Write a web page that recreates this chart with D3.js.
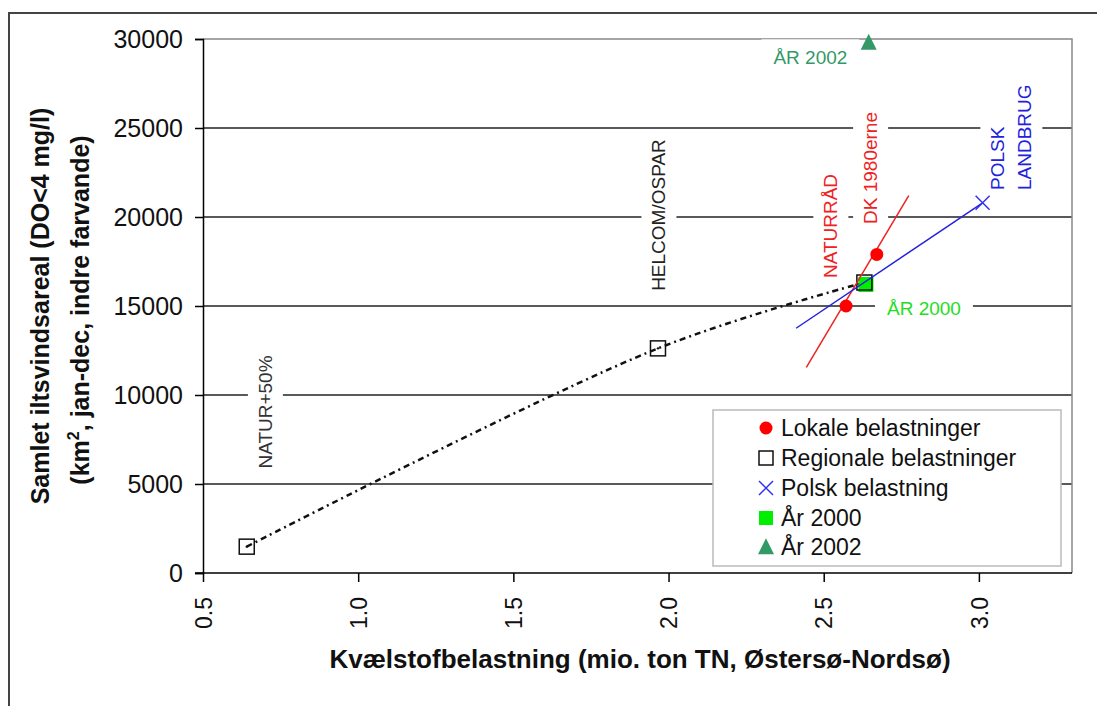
<!DOCTYPE html>
<html>
<head>
<meta charset="utf-8">
<script src="https://cdn.jsdelivr.net/npm/d3@7/dist/d3.min.js"></script>
<style>
  html, body { margin: 0; padding: 0; background: #fff; }
  text { font-family: "Liberation Sans", Arial, sans-serif; }
</style>
</head>
<body>
<svg id="chart" width="1097" height="706"></svg>
<script>
// ---- data ----
const xTicks = [0.5, 1.0, 1.5, 2.0, 2.5, 3.0];
const yTicks = [0, 5000, 10000, 15000, 20000, 25000, 30000];

const regionalX = [0.641, 1.966, 2.631];
const regionalY = [1480, 12620, 16320];

const lokaleX = [2.572, 2.671];
const lokaleY = [15000, 17900];

const polskX = [3.012];
const polskY = [20800];

const year2000X = [2.636];
const year2000Y = [16210];

const year2002X = [2.645];
const year2002Y = [29800];

const redTrendX = [2.444, 2.774];
const redTrendY = [11550, 21200];

const blueTrendX = [2.411, 3.012];
const blueTrendY = [13750, 20800];

const legendLabels = ["Lokale belastninger", "Regionale belastninger", "Polsk belastning", "År 2000", "År 2002"];

// annotation labels: text, x, y, rotated?, colour, anchor
const annotations = [
  {t: "NATUR+50%",    x: 0.700, y: 9045,  rot: true,  c: "#333333", a: "middle"},
  {t: "HELCOM/OSPAR", x: 1.968, y: 20112, rot: true,  c: "#222222", a: "middle"},
  {t: "NATURRÅD",     x: 2.522, y: 19494, rot: true,  c: "#ee2222", a: "middle"},
  {t: "DK 1980erne",  x: 2.650, y: 22753, rot: true,  c: "#ee2222", a: "middle"},
  {t: "POLSK",        x: 3.060, y: 21517, rot: true,  c: "#2222dd", a: "start"},
  {t: "LANDBRUG",     x: 3.147, y: 21517, rot: true,  c: "#2222dd", a: "start"},
  {t: "ÅR 2000",      x: 2.823, y: 14888, rot: false, c: "#22dd22", a: "middle"},
  {t: "ÅR 2002",      x: 2.457, y: 28961, rot: false, c: "#339966", a: "middle"}
];

// ---- layout ----
const svg = d3.select("#chart");
const L = 203, R = 1072, T = 39, B = 573;
const x = d3.scaleLinear().domain([0.5, 3.3]).range([L, R]);
const y = d3.scaleLinear().domain([0, 30000]).range([B, T]);

svg.append("rect").attr("width", 1097).attr("height", 706).attr("fill", "#fff");

// outer frame
svg.append("path").attr("d", "M9,706 L9,13 L1097,13")
  .attr("fill", "none").attr("stroke", "#444").attr("stroke-width", 2);

// gridlines
const gGrid = svg.append("g");
gGrid.selectAll("line").data(yTicks.filter(v => v > 0 && v < 30000)).join("line")
  .attr("x1", L).attr("x2", R).attr("y1", d => y(d)).attr("y2", d => y(d))
  .attr("stroke", "#222").attr("stroke-width", 1.4);

// plot border top/right (grey)
svg.append("path").attr("d", `M${L},${T} L${R},${T} L${R},${B}`)
  .attr("fill", "none").attr("stroke", "#888").attr("stroke-width", 1.5);

// axes
const yAxis = d3.axisLeft(y).tickValues(yTicks).tickSize(8).tickPadding(12).tickFormat(d3.format("d"));
const gy = svg.append("g").attr("transform", `translate(${L},0)`).call(yAxis);
gy.select(".domain").attr("stroke", "#000").attr("stroke-width", 1.5);
gy.selectAll(".tick line").attr("stroke", "#000").attr("stroke-width", 1.5);
gy.selectAll(".tick text").attr("font-size", 25).attr("fill", "#111")
  .attr("font-family", "Liberation Sans, Arial, sans-serif");

const xAxis = d3.axisBottom(x).tickValues(xTicks).tickSize(9).tickFormat(d3.format(".1f"));
const gx = svg.append("g").attr("transform", `translate(0,${B})`).call(xAxis);
gx.select(".domain").attr("stroke", "#000").attr("stroke-width", 1.5)
  .attr("d", `M${L - 8},0H${R}`);
gx.selectAll(".tick line").attr("stroke", "#000").attr("stroke-width", 1.5);
gx.selectAll(".tick text")
  .attr("font-size", 23).attr("fill", "#111")
  .attr("font-family", "Liberation Sans, Arial, sans-serif")
  .attr("transform", "rotate(-90)")
  .attr("text-anchor", "end")
  .attr("x", -24).attr("y", 0).attr("dy", "0.36em");

// axis titles
svg.append("text").attr("x", 640).attr("y", 668).attr("text-anchor", "middle")
  .attr("font-size", 26).attr("font-weight", "bold").attr("fill", "#111")
  .text("Kvælstofbelastning (mio. ton TN, Østersø-Nordsø)");

const yt = svg.append("g").attr("transform", "translate(49,306) rotate(-90)");
yt.append("text").attr("text-anchor", "middle").attr("font-size", 25).attr("font-weight", "bold")
  .attr("fill", "#111").text("Samlet iltsvindsareal (DO<4 mg/l)");
const yt2 = yt.append("text").attr("text-anchor", "middle").attr("y", 40).attr("x", -4)
  .attr("font-size", 25).attr("font-weight", "bold").attr("fill", "#111");
yt2.append("tspan").text("(km");
yt2.append("tspan").attr("font-size", 16).attr("dy", -10).text("2");
yt2.append("tspan").attr("dy", 10).text(", jan-dec, indre farvande)");

// annotation labels with white backgrounds
const gAnn = svg.append("g");
annotations.forEach(a => {
  const g = gAnn.append("g");
  const fs = 19;
  g.attr("transform", a.rot
    ? `translate(${x(a.x)},${y(a.y)}) rotate(-90)`
    : `translate(${x(a.x)},${y(a.y)})`);
  const t = g.append("text").attr("text-anchor", a.a).attr("dy", "0.36em")
    .attr("font-size", fs).attr("fill", a.c).text(a.t);
  const bb = t.node().getBBox();
  const padL = a.rot ? 8 : 12, padW = a.rot ? 7 : 8;
  g.insert("rect", "text")
    .attr("x", bb.x - padL).attr("y", bb.y - padW)
    .attr("width", bb.width + 2 * padL).attr("height", bb.height + 2 * padW)
    .attr("fill", "#fff");
});

// regional dotted curve
const lineGen = d3.line().x(d => x(d[0])).y(d => y(d[1])).curve(d3.curveCatmullRom.alpha(0.5));
svg.append("path").datum(d3.zip(regionalX, regionalY)).attr("d", lineGen)
  .attr("fill", "none").attr("stroke", "#111").attr("stroke-width", 2.5)
  .attr("stroke-dasharray", "6,4,2,4");

// markers
function drawSquareOpen(g, cx, cy, s) {
  g.append("rect").attr("x", cx - s / 2).attr("y", cy - s / 2).attr("width", s).attr("height", s)
    .attr("fill", "none").attr("stroke", "#111").attr("stroke-width", 1.5);
}
function drawCircle(g, cx, cy, r) {
  g.append("circle").attr("cx", cx).attr("cy", cy).attr("r", r).attr("fill", "#ff0000");
}
function drawX(g, cx, cy, s, w) {
  g.append("path").attr("d", `M${cx - s / 2},${cy - s / 2}L${cx + s / 2},${cy + s / 2}M${cx - s / 2},${cy + s / 2}L${cx + s / 2},${cy - s / 2}`)
    .attr("stroke", "#3333ee").attr("stroke-width", w).attr("fill", "none");
}
function drawGreenSquare(g, cx, cy, s) {
  g.append("rect").attr("x", cx - s / 2).attr("y", cy - s / 2).attr("width", s).attr("height", s)
    .attr("fill", "#00ee00");
}
function drawTriangle(g, cx, cy, s) {
  g.append("path").attr("d", `M${cx},${cy - s * 0.55}L${cx + s / 2},${cy + s * 0.45}L${cx - s / 2},${cy + s * 0.45}Z`)
    .attr("fill", "#339966");
}

const straight = d3.line().x(d => x(d[0])).y(d => y(d[1]));
const gm = svg.append("g");
d3.zip(year2000X, year2000Y).forEach(d => drawGreenSquare(gm, x(d[0]), y(d[1]), 15));
d3.zip(regionalX, regionalY).forEach(d => drawSquareOpen(gm, x(d[0]), y(d[1]), 15));

// trend lines
svg.append("path").datum(d3.zip(redTrendX, redTrendY)).attr("d", straight)
  .attr("stroke", "#ee2222").attr("stroke-width", 1.5).attr("fill", "none");
svg.append("path").datum(d3.zip(blueTrendX, blueTrendY)).attr("d", straight)
  .attr("stroke", "#2222dd").attr("stroke-width", 1.5).attr("fill", "none");

const gm2 = svg.append("g");
d3.zip(lokaleX, lokaleY).forEach(d => drawCircle(gm2, x(d[0]), y(d[1]), 6.5));
d3.zip(polskX, polskY).forEach(d => drawX(gm2, x(d[0]), y(d[1]), 14, 1.5));
d3.zip(year2002X, year2002Y).forEach(d => drawTriangle(gm2, x(d[0]), y(d[1]), 16));
d3.zip(regionalX, regionalY).slice(0, 2).forEach(d => {
  gm2.append("circle").attr("cx", x(d[0])).attr("cy", y(d[1])).attr("r", 1.2).attr("fill", "#111");
});

// legend
const lg = svg.append("g");
lg.append("rect").attr("x", 713).attr("y", 410).attr("width", 348).attr("height", 156)
  .attr("fill", "#fff").attr("stroke", "#bbb").attr("stroke-width", 1.5);
const rowsY = [428, 458, 488, 518, 547];
const mx = 766;
drawCircle(lg, mx, rowsY[0], 6.5);
drawSquareOpen(lg, mx, rowsY[1], 14);
drawX(lg, mx, rowsY[2], 14, 1.5);
drawGreenSquare(lg, mx, rowsY[3], 14);
drawTriangle(lg, mx, rowsY[4], 16);
lg.selectAll("text.leg").data(legendLabels).join("text").attr("class", "leg")
  .attr("x", 781).attr("y", (d, i) => rowsY[i]).attr("dy", "0.36em")
  .attr("font-size", 23).attr("fill", "#111").text(d => d);
</script>
</body>
</html>
